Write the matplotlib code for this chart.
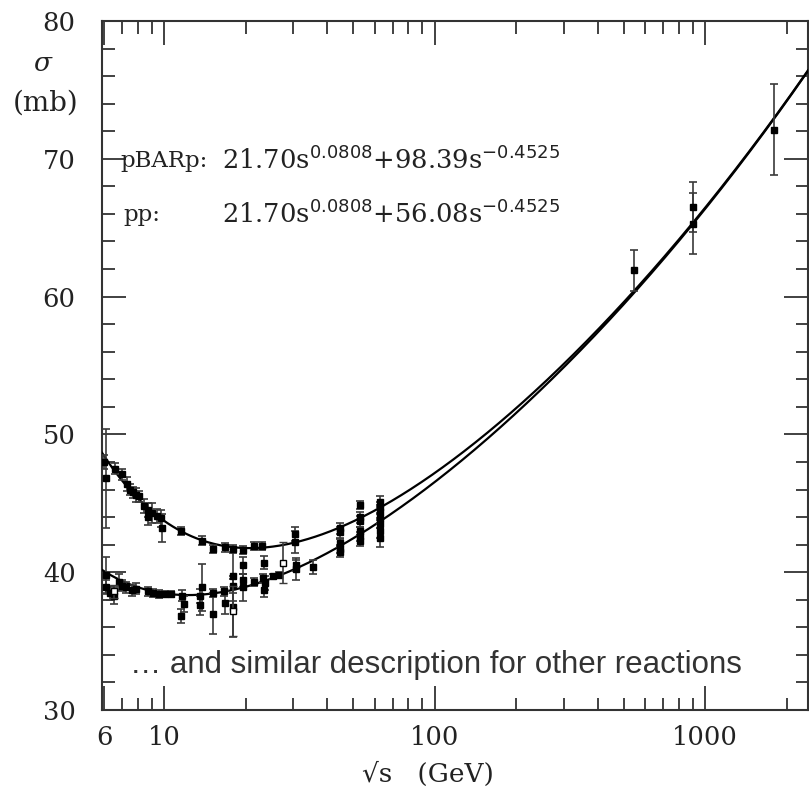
import numpy as np
import matplotlib
matplotlib.use("Agg")
import matplotlib.pyplot as plt
from matplotlib.ticker import FixedLocator, NullFormatter, FixedFormatter, MultipleLocator

# ---------------- data ----------------
# fit parameters:  sigma = A s^eps + B s^-eta
fit_A = 21.70
fit_eps = 0.0808
fit_eta = 0.4525
fit_B_pbarp = 98.39
fit_B_pp = 56.08

# pbar-p measurements
pbarp_rs = [6.0, 6.1, 6.6, 7.0, 7.3, 7.5, 7.7, 7.9, 8.1, 8.4, 8.7, 8.7, 9.0, 9.4, 9.7, 9.8,
            11.5, 13.8, 15.1, 16.8, 18.0, 19.6, 21.4, 23.0, 30.4, 30.4,
            44.7, 44.7, 52.8, 52.8, 52.8, 62.7, 62.7, 62.7,
            546, 900, 900, 1800]
pbarp_sig = [48.0, 46.8, 47.5, 47.1, 46.4, 46.0, 45.8, 45.6, 45.5, 44.8, 44.5, 44.0, 44.3, 44.1, 43.9, 43.2,
             43.0, 42.3, 41.7, 41.8, 41.7, 41.6, 41.9, 41.9, 42.2, 42.8,
             43.2, 42.9, 44.9, 44.0, 43.7, 45.1, 44.7, 44.4,
             61.9, 66.5, 65.3, 72.1]
pbarp_err = [0.5, 3.6, 0.4, 0.4, 0.5, 0.4, 0.4, 0.5, 0.4, 0.5, 0.5, 0.6, 0.7, 0.5, 0.6, 1.0,
             0.3, 0.3, 0.3, 0.3, 0.3, 0.3, 0.3, 0.3, 0.8, 0.5,
             0.4, 0.4, 0.3, 0.4, 0.4, 0.4, 0.4, 0.5,
             1.5, 1.8, 2.2, 3.3]

# p-p measurements
pp_rs = [6.1, 6.1, 6.3, 6.5, 6.8, 7.0, 7.2, 7.6, 7.9, 8.7, 9.1, 9.6, 10.1, 10.6,
         11.6, 11.8, 11.5, 13.6, 13.8, 13.6, 15.2, 15.2, 16.7, 16.8,
         18.0, 18.0, 18.0, 19.5, 19.5, 19.5, 21.4, 23.1, 23.4, 23.4, 23.6,
         25.3, 26.5, 30.6, 30.6, 35.5,
         44.7, 44.7, 44.7, 52.8, 52.8, 52.8, 62.7, 62.7, 62.7, 62.7]
pp_sig = [39.8, 38.9, 38.5, 38.3, 39.3, 39.0, 38.9, 38.7, 38.8, 38.6, 38.5, 38.4, 38.4, 38.4,
          38.3, 37.7, 36.8, 38.3, 38.9, 37.6, 38.5, 37.0, 38.6, 37.8,
          39.0, 39.7, 37.5, 39.4, 38.9, 40.5, 39.3, 39.6, 40.7, 38.7, 39.2,
          39.7, 39.8, 40.5, 40.2, 40.4,
          42.1, 41.7, 41.5, 43.0, 42.6, 42.3, 43.9, 43.5, 43.0, 42.5]
pp_err = [1.3, 0.5, 0.5, 0.6, 0.6, 0.4, 0.4, 0.4, 0.4, 0.3, 0.3, 0.3, 0.2, 0.2,
          0.4, 0.6, 0.5, 0.5, 1.7, 0.7, 0.3, 1.5, 0.3, 0.8,
          0.5, 1.8, 2.2, 0.5, 1.0, 0.6, 0.3, 0.3, 0.5, 0.5, 0.5,
          0.2, 0.2, 0.4, 0.8, 0.5,
          0.3, 0.3, 0.4, 0.3, 0.3, 0.4, 0.3, 0.3, 0.5, 0.7]

# open-square p-p points
pp_open_rs = [6.5, 18.0, 27.5]
pp_open_sig = [38.6, 37.2, 40.7]
pp_open_err = [0.5, 1.8, 1.5]

xtick_vals = [6, 10, 100, 1000]
xtick_labels = ["6", "10", "100", "1000"]
xminor_vals = [7, 8, 9, 20, 30, 40, 50, 60, 70, 80, 90,
               200, 300, 400, 500, 600, 700, 800, 900, 2000]
ytick_vals = [30, 40, 50, 60, 70, 80]

# ---------------- figure ----------------
plt.rcParams['mathtext.fontset'] = 'custom'
plt.rcParams['mathtext.rm'] = 'DejaVu Serif'
plt.rcParams['mathtext.it'] = 'DejaVu Serif:italic'
plt.rcParams['mathtext.sf'] = 'DejaVu Sans'

W, H = 809, 789
fig = plt.figure(figsize=(W / 100, H / 100), dpi=100)
ax = fig.add_axes([102 / W, 1 - 710 / H, (808 - 102) / W, (710 - 21) / H])

axcol = '#333333'
ax.set_xscale('log')
ax.set_xlim(5.89, 2400)
ax.set_ylim(30, 80)

rs = np.logspace(np.log10(5.89), np.log10(2400), 600)
s = rs ** 2
curve_pbarp = fit_A * s ** fit_eps + fit_B_pbarp * s ** (-fit_eta)
curve_pp = fit_A * s ** fit_eps + fit_B_pp * s ** (-fit_eta)
ax.plot(rs, curve_pbarp, color='black', lw=1.6, zorder=3)
ax.plot(rs, curve_pp, color='black', lw=1.6, zorder=3)

ekw = dict(fmt='s', ms=3.8, color='black', ecolor='#3a3a3a', elinewidth=1.2,
           capsize=3, capthick=1.2, zorder=4)
ax.errorbar(pbarp_rs, pbarp_sig, yerr=pbarp_err, **ekw)
ax.errorbar(pp_rs, pp_sig, yerr=pp_err, **ekw)
ax.errorbar(pp_open_rs, pp_open_sig, yerr=pp_open_err, fmt='s', ms=4.5,
            mfc='white', mec='black', mew=1.0, ecolor='#3a3a3a', elinewidth=1.2,
            capsize=3, capthick=1.2, zorder=5)

# ticks
ax.xaxis.set_major_locator(FixedLocator(xtick_vals))
ax.xaxis.set_major_formatter(FixedFormatter(xtick_labels))
ax.xaxis.set_minor_locator(FixedLocator(xminor_vals))
ax.xaxis.set_minor_formatter(NullFormatter())
ax.yaxis.set_major_locator(FixedLocator(ytick_vals))
ax.yaxis.set_minor_locator(MultipleLocator(2))
ax.tick_params(which='both', direction='in', top=True, right=True, color=axcol,
               width=1.3, labelsize=18.5, labelcolor='#222222')
ax.tick_params(which='major', length=17)
ax.tick_params(which='minor', length=9)
ax.tick_params(axis='x', which='major', pad=11)
ax.tick_params(axis='y', which='major', pad=19)
for lab in ax.get_xticklabels() + ax.get_yticklabels():
    lab.set_fontfamily('DejaVu Serif')
for sp in ax.spines.values():
    sp.set_color(axcol)
    sp.set_linewidth(1.5)

# texts
serif = 'DejaVu Serif'
fig.text(43 / W, 1 - 64 / H, r'$\sigma$', fontsize=19, ha='center', va='center', color='#222222')
fig.text(46 / W, 1 - 103 / H, '(mb)', fontsize=20, ha='center', va='center',
         family=serif, color='#222222')
fig.text(428 / W, 1 - 774 / H, '\u221as   (GeV)', fontsize=19, ha='center',
         va='center', family=serif, color='#222222')

fig.text(120 / W, 1 - 161 / H, 'pBARp:', fontsize=16.5, ha='left', va='center',
         family=serif, color='#222222')
fig.text(222 / W, 1 - 161 / H,
         r'$\mathrm{21.70s}^{\mathsf{0.0808}}\mathrm{+98.39s}^{\mathsf{-0.4525}}$',
         fontsize=18.5, ha='left', va='center', color='#222222')
fig.text(123 / W, 1 - 215 / H, 'pp:', fontsize=16.5, ha='left', va='center',
         family=serif, color='#222222')
fig.text(222 / W, 1 - 215 / H,
         r'$\mathrm{21.70s}^{\mathsf{0.0808}}\mathrm{+56.08s}^{\mathsf{-0.4525}}$',
         fontsize=18.5, ha='left', va='center', color='#222222')

fig.text(130 / W, 1 - 665 / H, '\u2026 and similar description for other reactions',
         fontsize=22.5, ha='left', va='center', family='Liberation Sans', color='#333333')

fig.savefig('out.png', dpi=100)
